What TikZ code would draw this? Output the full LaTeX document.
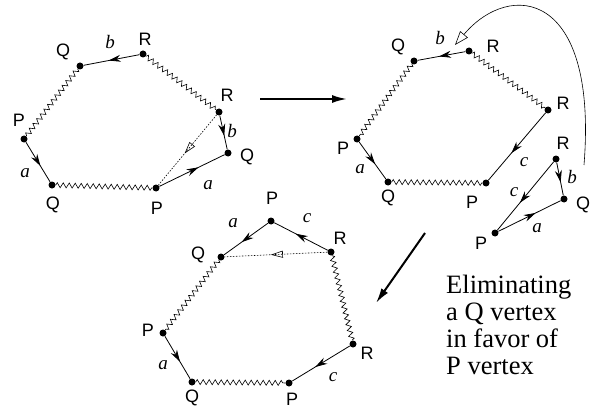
\documentclass[tikz,border=0pt]{standalone}
\usepackage{fontspec}
\setmainfont{Liberation Serif}
\newfontfamily\hv{Liberation Sans}
\usetikzlibrary{arrows.meta,decorations.pathmorphing,decorations.markings}

\begin{document}
\begin{tikzpicture}[
    x=1pt, y=-1pt,
    dot/.style={circle, fill, inner sep=0pt, minimum size=7pt},
    vlab/.style={font=\hv\fontsize{18}{18}\selectfont, inner sep=0pt},
    elab/.style={font=\fontsize{19}{19}\selectfont\itshape, inner sep=0pt},
    zz/.style={line width=0.6pt, decorate,
      decoration={zigzag, segment length=6pt, amplitude=2.5pt}},
    marr/.style={line width=0.8pt, postaction={decorate, decoration={markings,
      mark=at position #1 with {\arrow{Stealth[length=12pt,width=7pt]}}}}},
    marr/.default=0.6,
    dotarr/.style={line width=0.6pt, dash pattern=on 1.5pt off 1.5pt,
      postaction={decorate, decoration={markings,
      mark=at position 0.55 with {\arrow{Triangle[open,length=12pt,width=7pt]}}}}},
    bigarr/.style={line width=2pt, -{Latex[length=15pt,width=8pt]}}
  ]
  \useasboundingbox (0,0) rectangle (594,409);

  % first polygon
  \node[dot] (q1) at (80,66) {};
  \node[dot] (r1) at (143,54) {};
  \node[dot] (r2) at (219,112) {};
  \node[dot] (q2) at (228,153) {};
  \node[dot] (p2) at (156,188) {};
  \node[dot] (q3) at (52,185) {};
  \node[dot] (p1) at (24,139) {};
  \node[vlab] (q1l) at (63,52) {Q};
  \node[vlab] (r1l) at (145,39) {R};
  \node[vlab] (r2l) at (227,95) {R};
  \node[vlab] (q2l) at (247,157) {Q};
  \node[vlab] (p2l) at (157,208) {P};
  \node[vlab] (q3l) at (53,205) {Q};
  \node[vlab] (p1l) at (19,120) {P};
  \node[elab] (b1) at (110,42) {b};
  \node[elab] (b2) at (232,131) {b};
  \node[elab] (a2) at (208,185) {a};
  \node[elab] (a1) at (25,173) {a};
  \draw[zz] (q1) -- (p1);
  \draw[zz] (r1) -- (r2);
  \draw[zz] (q3) -- (p2);
  \draw[marr=0.55] (r1) -- (q1);
  \draw[marr] (r2) -- (q2);
  \draw[marr] (p2) -- (q2);
  \draw[marr] (p1) -- (q3);
  \draw[dotarr] (r2) -- (p2);

  % second polygon
  \node[dot] (q4) at (414,61) {};
  \node[dot] (r3) at (469,51) {};
  \node[dot] (r4) at (548,110) {};
  \node[dot] (p4) at (486,183) {};
  \node[dot] (q5) at (388,182) {};
  \node[dot] (p3) at (357,139) {};
  \node[vlab] (q4l) at (398,47) {Q};
  \node[vlab] (r3l) at (493,46) {R};
  \node[vlab] (r4l) at (563,103) {R};
  \node[vlab] (p4l) at (472,202) {P};
  \node[vlab] (q5l) at (388,198) {Q};
  \node[vlab] (p3l) at (343,148) {P};
  \node[elab] (b3) at (440,38) {b};
  \node[elab] (c1) at (524,162) {c};
  \node[elab] (a3) at (360,169) {a};
  \draw[zz] (q4) -- (p3);
  \draw[zz] (r3) -- (r4);
  \draw[zz] (q5) -- (p4);
  \draw[marr=0.55] (r3) -- (q4);
  \draw[marr] (r4) -- (p4);
  \draw[marr] (p3) -- (q5);

  % removed triangle
  \node[dot] (r5) at (556,159) {};
  \node[dot] (q6) at (564,199) {};
  \node[dot] (p5) at (495,233) {};
  \node[vlab] (r5l) at (563,143) {R};
  \node[vlab] (q6l) at (583,205) {Q};
  \node[vlab] (p5l) at (481,243) {P};
  \node[elab] (b4) at (572,177) {b};
  \node[elab] (c2) at (514,192) {c};
  \node[elab] (a4) at (537,228) {a};
  \draw[marr] (r5) -- (q6);
  \draw[marr] (r5) -- (p5);
  \draw[marr] (p5) -- (q6);
  \coordinate (cs) at (584,165);
  \coordinate (ce) at (455,45);
  \draw[line width=0.6pt, -{Triangle[open,length=14pt,width=10pt]}]
    (cs) .. controls (598,-10) and (510,-20) .. (ce);

  % third polygon
  \node[dot] (p6) at (271,221) {};
  \node[dot] (r6) at (331,252) {};
  \node[dot] (q7) at (221,257) {};
  \node[dot] (r7) at (353,344) {};
  \node[dot] (p8) at (289,383) {};
  \node[dot] (q8) at (192,382) {};
  \node[dot] (p7) at (163,333) {};
  \node[vlab] (p6l) at (272,198) {P};
  \node[vlab] (r6l) at (340,238) {R};
  \node[vlab] (q7l) at (198,255) {Q};
  \node[vlab] (r7l) at (367,353) {R};
  \node[vlab] (p8l) at (292,399) {P};
  \node[vlab] (q8l) at (192,398) {Q};
  \node[vlab] (p7l) at (148,330) {P};
  \node[elab] (a5) at (233,223) {a};
  \node[elab] (c3) at (307,218) {c};
  \node[elab] (c4) at (333,377) {c};
  \node[elab] (a6) at (163,365) {a};
  \draw[zz] (q7) -- (p7);
  \draw[zz] (q8) -- (p8);
  \draw[zz] (r6) -- (r7);
  \draw[marr] (r6) -- (p6);
  \draw[marr] (p6) -- (q7);
  \draw[marr] (p7) -- (q8);
  \draw[marr] (r7) -- (p8);
  \draw[dotarr] (r6) -- (q7);

  % big arrows
  \coordinate (s1) at (260,99);
  \coordinate (e1) at (347,99);
  \coordinate (s2) at (425,233);
  \coordinate (e2) at (376,303);
  \draw[bigarr] (s1) -- (e1);
  \draw[bigarr] (s2) -- (e2);

  \node[anchor=north west, inner sep=0pt, align=left,
    font=\fontsize{26.5}{27}\selectfont] (txt) at (446,275)
    {Eliminating\\a Q vertex\\in favor of\\P vertex};
\end{tikzpicture}
\end{document}
